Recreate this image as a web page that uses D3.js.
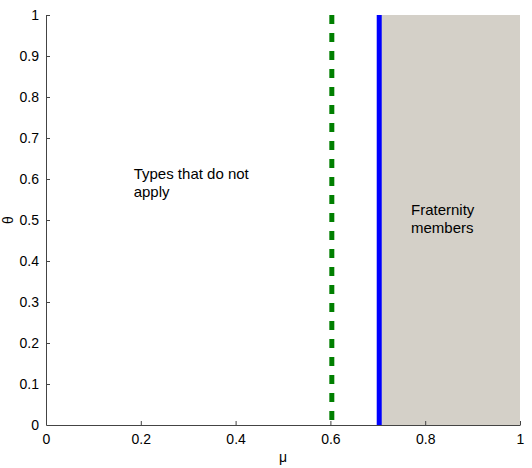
<!DOCTYPE html>
<meta charset="utf-8">
<script src="https://d3js.org/d3.v7.min.js"></script>
<style>
  body { margin: 0; background: #fff; }
  text { font-family: "Liberation Sans", Arial, sans-serif; }
</style>
<div id="chart"></div>
<script>
// tick values and marker positions
var xTicks = [0, 0.2, 0.4, 0.6, 0.8, 1];
var yTicks = [0, 0.1, 0.2, 0.3, 0.4, 0.5, 0.6, 0.7, 0.8, 0.9, 1];
var dashedAt = [0.603];          // green dashed threshold
var solidAt = [0.703];           // blue solid threshold
var shaded = [[0.703, 1]];       // fraternity region (mu range)
var notes = [
  {x: 0.185, y: 0.60, lines: ["Types that do not", "apply"]},
  {x: 0.77, y: 0.513, lines: ["Fraternity", "members"]}
];

var W = 532, H = 468;
var margin = {top: 15, right: 12, bottom: 43, left: 46},
    width = W - margin.left - margin.right,
    height = H - margin.top - margin.bottom;

var svg = d3.select("#chart").append("svg")
    .attr("width", W).attr("height", H)
  .append("g")
    .attr("transform", "translate(" + margin.left + "," + margin.top + ")");

var x = d3.scaleLinear().domain([0, 1]).range([0, width]);
var y = d3.scaleLinear().domain([0, 1]).range([height, 0]);

// shaded region
svg.selectAll(".shade").data(shaded).enter().append("rect")
  .attr("x", function(d) { return x(d[0]); })
  .attr("y", y(1))
  .attr("width", function(d) { return x(d[1]) - x(d[0]); })
  .attr("height", y(0) - y(1))
  .attr("fill", "#d4d0c8");

// axes (ticks inward)
var xAxis = svg.append("g")
  .attr("transform", "translate(0," + height + ")")
  .call(d3.axisBottom(x).tickValues(xTicks).tickSize(-4).tickSizeOuter(0)
    .tickFormat(d3.format("~g")).tickPadding(9));
var yAxis = svg.append("g")
  .call(d3.axisLeft(y).tickValues(yTicks).tickSize(-4).tickSizeOuter(0)
    .tickFormat(d3.format("~g")).tickPadding(7));

[xAxis, yAxis].forEach(function(a) {
  a.select(".domain").attr("stroke", "#444");
  a.selectAll(".tick line").attr("stroke", "#444");
  a.selectAll(".tick text").attr("fill", "#000").style("font-size", "14px")
    .style("font-family", "Liberation Sans, Arial, sans-serif");
});
// no inward tick at the corner
xAxis.selectAll(".tick").filter(function(d) { return d === 0; }).select("line").remove();
yAxis.selectAll(".tick").filter(function(d) { return d === 0; }).select("line").remove();

// dashed green line
svg.selectAll(".dash").data(dashedAt).enter().append("line")
  .attr("x1", function(d) { return x(d); }).attr("x2", function(d) { return x(d); })
  .attr("y1", y(1)).attr("y2", y(0))
  .attr("stroke", "#007f00").attr("stroke-width", 5)
  .attr("stroke-dasharray", "9,9");

// solid blue line
svg.selectAll(".solid").data(solidAt).enter().append("line")
  .attr("x1", function(d) { return x(d); }).attr("x2", function(d) { return x(d); })
  .attr("y1", y(1)).attr("y2", y(0))
  .attr("stroke", "#0000ff").attr("stroke-width", 5);

// annotations
notes.forEach(function(n) {
  var t = svg.append("text")
    .attr("x", x(n.x)).attr("y", y(n.y))
    .style("font-size", "15px").attr("fill", "#000");
  n.lines.forEach(function(l, i) {
    t.append("tspan").attr("x", x(n.x)).attr("dy", i === 0 ? 0 : 18).text(l);
  });
});

// axis labels
svg.append("text")
  .attr("x", x(0.5)).attr("y", height + 37)
  .attr("text-anchor", "middle").style("font-size", "14px")
  .text("\u03bc");
svg.append("text")
  .attr("transform", "translate(" + (-33) + "," + y(0.5) + ")rotate(-90)")
  .attr("text-anchor", "middle").style("font-size", "14px")
  .text("\u03b8");
</script>
